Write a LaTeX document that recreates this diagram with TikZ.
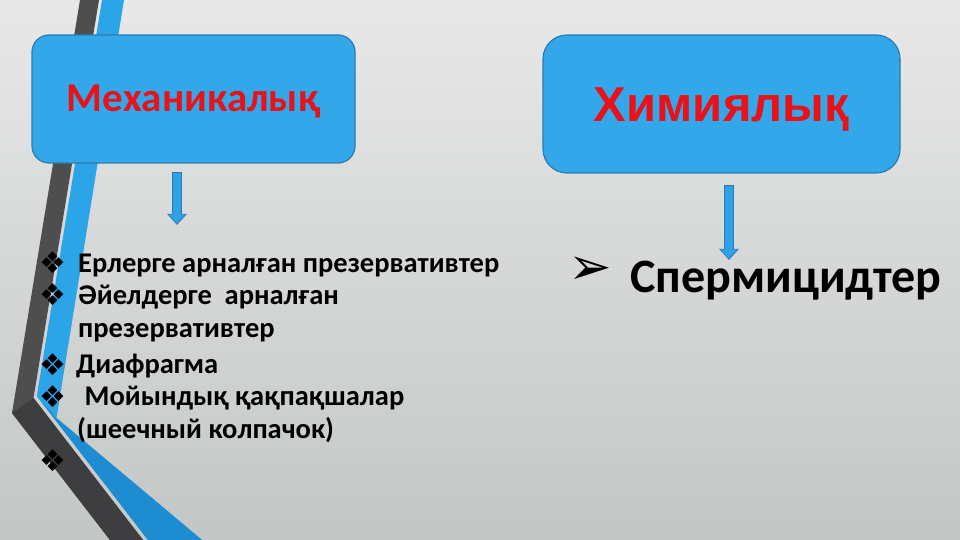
\documentclass[tikz,border=0pt]{standalone}
\usepackage{fontspec}
\usetikzlibrary{calc}
\newfontfamily\carl{Carlito}
\newfontfamily\dvs{DejaVu Sans}
\newfontfamily\lsans{Liberation Sans}
\definecolor{boxblue}{RGB}{50,168,234}
\definecolor{boxedge}{RGB}{44,122,178}
\definecolor{txtred}{RGB}{232,18,24}
\definecolor{stripdark}{RGB}{78,78,78}
\definecolor{stripdarklow}{RGB}{62,62,64}
\definecolor{stripblue}{RGB}{44,164,232}
\definecolor{stripbluelow}{RGB}{30,140,208}
\definecolor{arrowblue}{RGB}{46,162,228}
\definecolor{bgtop}{RGB}{232,232,232}
\definecolor{bgmid}{RGB}{240,240,240}
\definecolor{bgbot}{RGB}{194,199,197}
\begin{document}
\begin{tikzpicture}[x=1pt,y=-1pt,
  catbox/.style={draw=boxedge, line width=1.2pt, fill=boxblue, inner sep=0pt, text=txtred},
  item/.style={anchor=base west, inner sep=0pt, font=\carl\bfseries\fontsize{28.5}{32}\selectfont},
  bul/.style={inner sep=0pt, font=\dvs\fontsize{30}{34}\selectfont},
  blockarrow/.style={fill=arrowblue, draw=boxedge, line width=0.8pt, line join=miter}]
\useasboundingbox (0,0) rectangle (960,540);
% background
\shade[top color=bgtop, middle color=bgmid, bottom color=bgbot] (0,0) rectangle (960,540);
% stripes
\fill[stripdark] (80,0) -- (99,0) -- (33.5,398) -- (143,540) -- (110,540) -- (12,413) -- cycle;
\fill[stripdarklow] (12,413) -- (33.5,398) -- (143,540) -- (110,540) -- cycle;
\fill[stripblue] (102,0) -- (124,0) -- (56.5,418) -- (202,540) -- (148,540) -- (36.8,396) -- cycle;
\fill[stripbluelow] (36.8,396) -- (56.5,418) -- (202,540) -- (148,540) -- cycle;
% boxes
\node[catbox, rounded corners=17pt, minimum width=323pt, minimum height=128pt,
  font=\carl\bfseries\fontsize{41}{46}\selectfont, text height=26pt, text depth=0pt]
  (mech) at (193.5,99) {Механикалық};
\node[catbox, rounded corners=24pt, minimum width=357pt, minimum height=138pt,
  font=\lsans\bfseries\fontsize{49}{54}\selectfont, text height=35pt, text depth=0pt]
  (chem) at (721.5,104) {Химиялық};
% list items
\node[item] (l1) at (78,272) {Ерлерге арналған презервативтер};
\node[item] (l2) at (78,304) {Әйелдерге\ \ арналған};
\node[item] (l3) at (78,337) {презервативтер};
\node[item] (l4) at (76,373) {Диафрагма};
\node[item] (l5) at (78,405) {\ Мойындық қақпақшалар};
\node[item] (l6) at (77,438) {(шеечный колпачок)};
\node[bul] (b1) at (53,263) {❖};
\node[bul] (b2) at (53,295) {❖};
\node[bul] (b4) at (53,365) {❖};
\node[bul] (b5) at (53,397) {❖};
\node[bul] (b6) at (53,461) {❖};
\node[inner sep=0pt, font=\dvs\fontsize{52}{56}\selectfont] (ab) at (590,271) {➢};
\node[item, font=\carl\bfseries\fontsize{48}{54}\selectfont] (sp) at (630,292) {Спермицидтер};
% arrows
\coordinate (a1s) at ($(mech.south)+(-16.5,9)$);
\coordinate (a1e) at ($(l1.north west)+(99,-29)$);
\coordinate (a2s) at ($(chem.south)+(7.5,12)$);
\coordinate (a2e) at ($(sp.north west)+(99,-1)$);
\draw[blockarrow] ($(a1s)+(-4.5,0)$) -- ($(a1s)+(4.5,0)$) -- ($(a1e)+(4.5,-10)$) -- ($(a1e)+(9,-10)$)
  -- (a1e) -- ($(a1e)+(-9,-10)$) -- ($(a1e)+(-4.5,-10)$) -- cycle;
\draw[blockarrow] ($(a2s)+(-4.5,0)$) -- ($(a2s)+(4.5,0)$) -- ($(a2e)+(4.5,-10)$) -- ($(a2e)+(9,-10)$)
  -- (a2e) -- ($(a2e)+(-9,-10)$) -- ($(a2e)+(-4.5,-10)$) -- cycle;
\end{tikzpicture}
\end{document}
